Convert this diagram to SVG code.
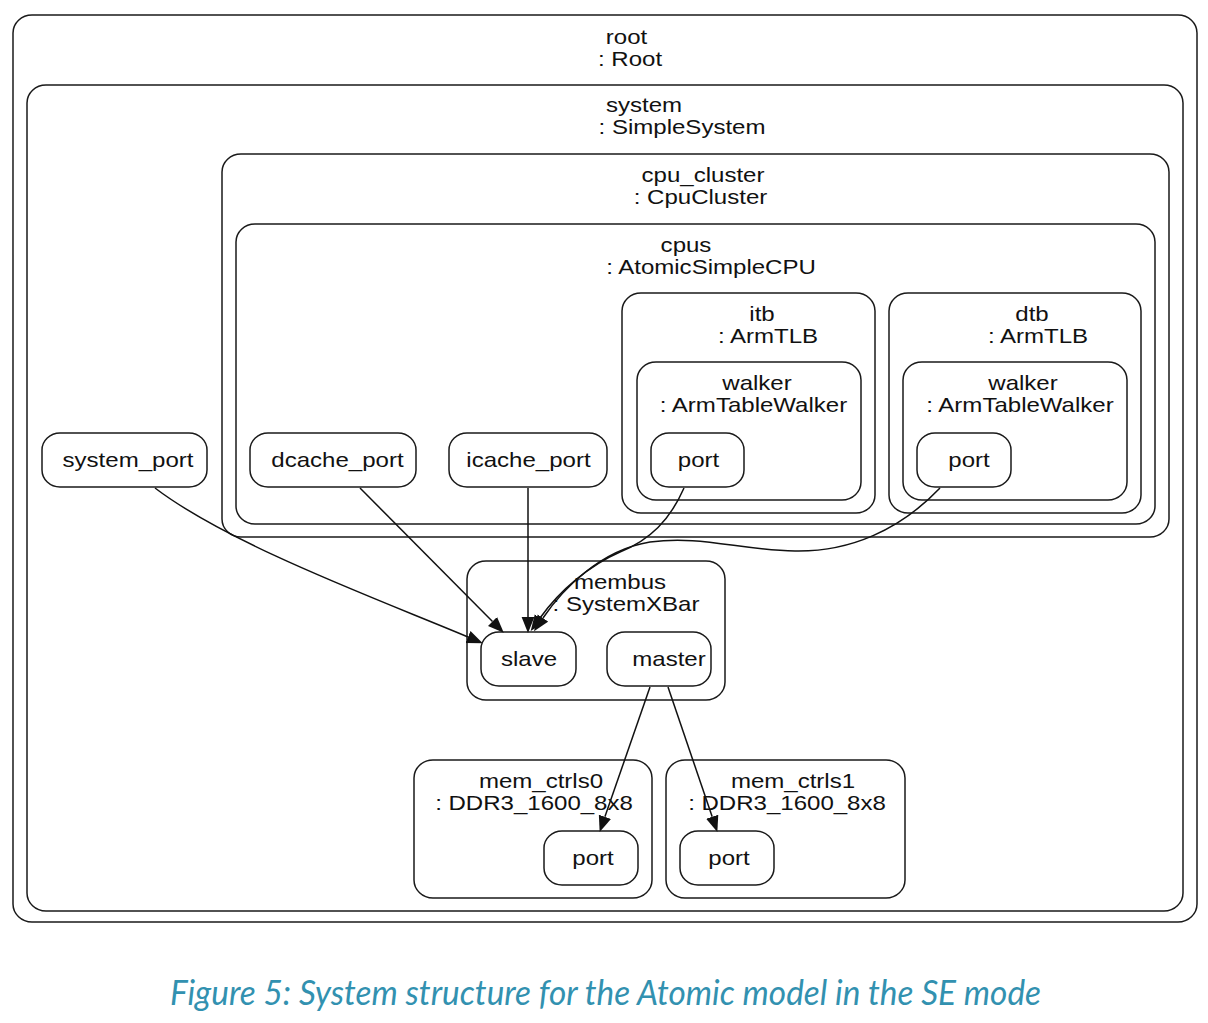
<svg xmlns="http://www.w3.org/2000/svg" width="1208" height="1023" viewBox="0 0 1208 1023">
<style>
.box{fill:none;stroke:#1a1a1a;stroke-width:1.5}
.t{font-family:"Liberation Sans",Arial,sans-serif;font-size:21px;fill:#111;text-anchor:middle}
.e{fill:none;stroke:#111;stroke-width:1.5}
.cap{font-family:Lato,"Open Sans",sans-serif;font-style:italic;font-size:34px;fill:#3291b0}
</style>
<defs>
<marker id="ah" markerUnits="userSpaceOnUse" markerWidth="16" markerHeight="14" viewBox="0 0 15 12" refX="0" refY="6" orient="auto">
<path d="M0,0 L15,6 L0,12 z" fill="#111"/>
</marker>
</defs>
<rect width="1208" height="1023" fill="#fff"/>

<g id="root">
<rect class="box" x="13" y="15" width="1184" height="907" rx="19" ry="18"/>
<text class="t" transform="translate(626.5,44) scale(1.145,1)">root</text>
<text class="t" transform="translate(630,66) scale(1.145,1)">: Root</text>
</g>

<g id="system">
<rect class="box" x="27" y="85" width="1156" height="826" rx="19" ry="18"/>
<text class="t" transform="translate(644,112) scale(1.145,1)">system</text>
<text class="t" transform="translate(682,134) scale(1.145,1)">: SimpleSystem</text>
</g>

<g id="cpu_cluster">
<rect class="box" x="222" y="154" width="947" height="383" rx="19" ry="18"/>
<text class="t" transform="translate(703,182) scale(1.145,1)">cpu_cluster</text>
<text class="t" transform="translate(700.5,204) scale(1.145,1)">: CpuCluster</text>
</g>

<g id="cpus">
<rect class="box" x="236" y="224" width="919" height="300" rx="19" ry="18"/>
<text class="t" transform="translate(686,252) scale(1.145,1)">cpus</text>
<text class="t" transform="translate(711,274) scale(1.145,1)">: AtomicSimpleCPU</text>
</g>

<g id="itb">
<rect class="box" x="622" y="293" width="253" height="220" rx="19" ry="18"/>
<text class="t" transform="translate(762,321) scale(1.145,1)">itb</text>
<text class="t" transform="translate(768,343) scale(1.145,1)">: ArmTLB</text>
</g>

<g id="itb_walker">
<rect class="box" x="637" y="362" width="224" height="138" rx="19" ry="18"/>
<text class="t" transform="translate(757,390) scale(1.145,1)">walker</text>
<text class="t" transform="translate(753.5,412) scale(1.145,1)">: ArmTableWalker</text>
</g>

<g id="itb_walker_port">
<rect class="box" x="651" y="433" width="93" height="54" rx="18" ry="17"/>
<text class="t" transform="translate(698.5,467) scale(1.145,1)">port</text>
</g>

<g id="dtb">
<rect class="box" x="889" y="293" width="252" height="220" rx="19" ry="18"/>
<text class="t" transform="translate(1032,321) scale(1.145,1)">dtb</text>
<text class="t" transform="translate(1038,343) scale(1.145,1)">: ArmTLB</text>
</g>

<g id="dtb_walker">
<rect class="box" x="903" y="362" width="224" height="138" rx="19" ry="18"/>
<text class="t" transform="translate(1023,390) scale(1.145,1)">walker</text>
<text class="t" transform="translate(1020,412) scale(1.145,1)">: ArmTableWalker</text>
</g>

<g id="dtb_walker_port">
<rect class="box" x="917" y="433" width="94" height="54" rx="18" ry="17"/>
<text class="t" transform="translate(969,467) scale(1.145,1)">port</text>
</g>

<g id="system_port">
<rect class="box" x="42" y="433" width="165" height="54" rx="18" ry="17"/>
<text class="t" transform="translate(128,467) scale(1.145,1)">system_port</text>
</g>

<g id="dcache_port">
<rect class="box" x="250" y="433" width="166" height="54" rx="18" ry="17"/>
<text class="t" transform="translate(337.5,467) scale(1.145,1)">dcache_port</text>
</g>

<g id="icache_port">
<rect class="box" x="449" y="433" width="158" height="54" rx="18" ry="17"/>
<text class="t" transform="translate(528.5,467) scale(1.145,1)">icache_port</text>
</g>

<g id="membus">
<rect class="box" x="467" y="561" width="258" height="139" rx="19" ry="18"/>
<text class="t" transform="translate(620,589) scale(1.145,1)">membus</text>
<text class="t" transform="translate(626,611) scale(1.145,1)">: SystemXBar</text>
</g>

<g id="membus_slave">
<rect class="box" x="481" y="632" width="95" height="54" rx="18" ry="17"/>
<text class="t" transform="translate(529,666) scale(1.145,1)">slave</text>
</g>

<g id="membus_master">
<rect class="box" x="607" y="632" width="104" height="54" rx="18" ry="17"/>
<text class="t" transform="translate(669,666) scale(1.145,1)">master</text>
</g>

<g id="mem_ctrls0">
<rect class="box" x="414" y="760" width="238" height="138" rx="19" ry="18"/>
<text class="t" transform="translate(541,788) scale(1.145,1)">mem_ctrls0</text>
<text class="t" transform="translate(534,810) scale(1.145,1)">: DDR3_1600_8x8</text>
</g>

<g id="mem_ctrls0_port">
<rect class="box" x="544" y="831" width="94" height="54" rx="18" ry="17"/>
<text class="t" transform="translate(593,865) scale(1.145,1)">port</text>
</g>

<g id="mem_ctrls1">
<rect class="box" x="666" y="760" width="239" height="138" rx="19" ry="18"/>
<text class="t" transform="translate(793,788) scale(1.145,1)">mem_ctrls1</text>
<text class="t" transform="translate(787,810) scale(1.145,1)">: DDR3_1600_8x8</text>
</g>

<g id="mem_ctrls1_port">
<rect class="box" x="680" y="831" width="94" height="54" rx="18" ry="17"/>
<text class="t" transform="translate(729,865) scale(1.145,1)">port</text>
</g>

<g id="connectors">
<path class="e" marker-end="url(#ah)" d="M155,488 C230,545 380,600 468,637"/>
<path class="e" marker-end="url(#ah)" d="M360,488 L492.5,621.5"/>
<path class="e" marker-end="url(#ah)" d="M528,488 L528,617"/>
<path class="e" marker-end="url(#ah)" d="M684,488 C670,520 650,540 620,552 C590,565 560,590 540,618"/>
<path class="e" marker-end="url(#ah)" d="M940,488 C900,530 850,552 795,551 C740,550 700,535 650,542 C600,550 562,590 543,618"/>
<path class="e" marker-end="url(#ah)" d="M650,687 L604.9,816.8"/>
<path class="e" marker-end="url(#ah)" d="M668,687 L712.2,816.8"/>
</g>

<text class="cap" x="170" y="1005" textLength="871" lengthAdjust="spacingAndGlyphs">Figure 5: System structure for the Atomic model in the SE mode</text>
</svg>
